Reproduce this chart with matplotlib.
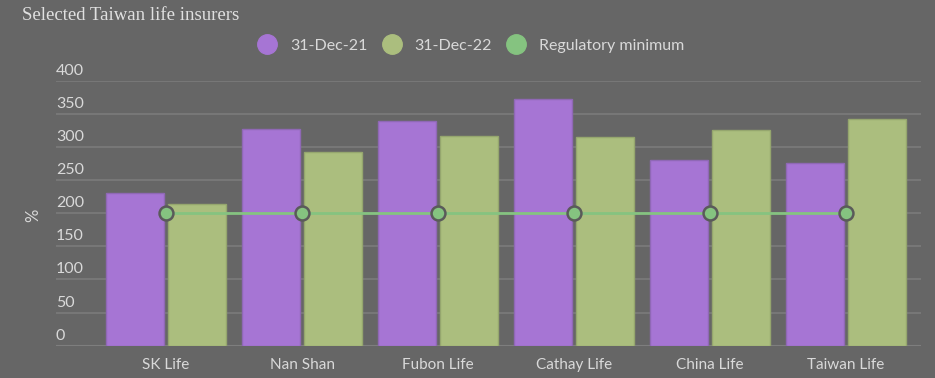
import matplotlib
matplotlib.use("Agg")
import matplotlib.pyplot as plt
from matplotlib.lines import Line2D
import numpy as np

categories = ["SK Life", "Nan Shan", "Fubon Life", "Cathay Life", "China Life", "Taiwan Life"]
dec21 = [231, 327, 339, 372, 280, 276]
dec22 = [214, 293, 316, 315, 326, 342]
reg_min = [200, 200, 200, 200, 200, 200]
yticks = [0, 50, 100, 150, 200, 250, 300, 350, 400]

BG = "#666666"
PURPLE = "#a675d4"
OLIVE = "#abbe7e"
GREEN = "#85c380"
TXT = "#d9d9d9"
GRID = "#7b7b7b"

fig = plt.figure(figsize=(9.35, 3.78), dpi=100, facecolor=BG)
W, H = 935, 378
left, right, top, bottom = 56, 921, 80.7, 345.7
ax = fig.add_axes([left / W, 1 - bottom / H, (right - left) / W, (bottom - top) / H])
ax.set_facecolor(BG)

x = np.arange(len(categories))
bw = 58 / 136
ax.bar(x - bw / 2 - 0.012, dec21, width=bw, color=PURPLE, edgecolor="#8f68b5", linewidth=1, zorder=2)
ax.bar(x + bw / 2 + 0.012, dec22, width=bw, color=OLIVE, edgecolor="#95a66e", linewidth=1, zorder=2)
ax.plot(x, reg_min, color=GREEN, linewidth=2, marker="o", markersize=10,
        markerfacecolor=GREEN, markeredgecolor="#5a5a5a", markeredgewidth=1.8, zorder=3)

ax.set_xlim(-(166 - 56) / 136, 5 + (921 - 846) / 136)
ax.set_ylim(0, 400)
for t in yticks:
    ax.axhline(t, color=GRID if t else "#7e7e7e", linewidth=1.5 if t == 0 else 1.2, zorder=1)
    ax.text(0, t + 4.5, str(t), transform=ax.get_yaxis_transform(), ha="left", va="bottom",
            color=TXT, fontsize=11.5, family="Lato")
ax.set_yticks([])
ax.set_xticks(x)
ax.set_xticklabels(categories, color=TXT, fontsize=11, family="Lato")
ax.tick_params(axis="x", length=0, pad=9)
for s in ax.spines.values():
    s.set_visible(False)

fig.text(33 / W, 1 - 215 / H, "%", rotation=90, ha="center", va="center", color=TXT,
         fontsize=12, family="Lato")
fig.text(22 / W, 1 - 15 / H, "Selected Taiwan life insurers", ha="left", va="center",
         color="#e0e0e0", fontsize=13.5, family="Liberation Serif")

handles = [Line2D([], [], linestyle="none", marker="o", markersize=14, color=c) for c in (PURPLE, OLIVE, GREEN)]
leg = fig.legend(handles, ["31-Dec-21", "31-Dec-22", "Regulatory minimum"], loc="center",
                 bbox_to_anchor=(471 / W, 1 - 46 / H), ncol=3, frameon=False,
                 handletextpad=0.85, columnspacing=0.9, handlelength=1.2,
                 prop={"family": "Lato", "size": 11.5})
for t in leg.get_texts():
    t.set_color(TXT)

fig.savefig("out.png", dpi=100, facecolor=BG)
